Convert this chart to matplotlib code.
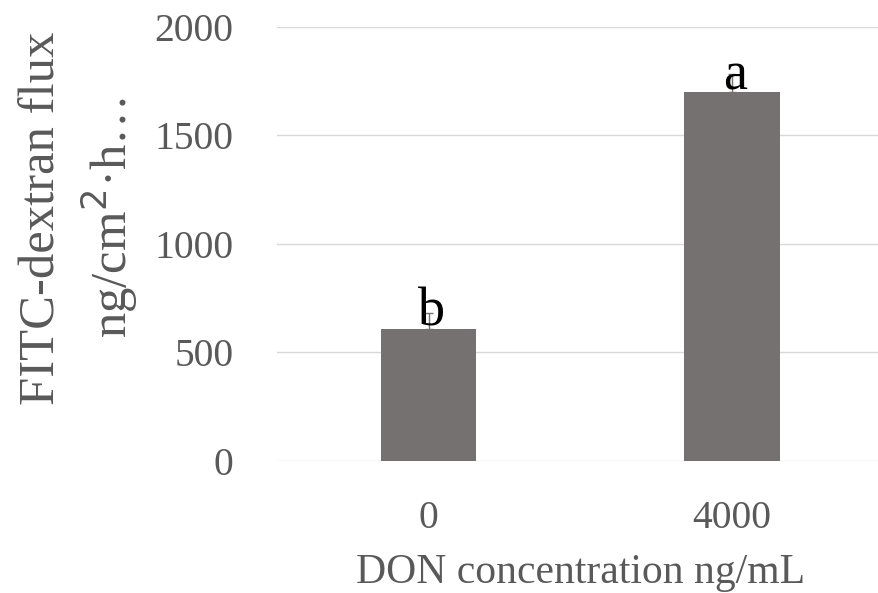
import matplotlib.pyplot as plt

# data
groups = ['0', '4000']
flux = [610, 1700]
err = [70, 85]
letters = ['b', 'a']

plt.rcParams['font.family'] = ['Liberation Serif', 'DejaVu Serif']

fig = plt.figure(figsize=(8.79, 5.93), dpi=100)
ax = fig.add_axes([0.3149, 0.2226, 0.6906, 0.7319])

x = range(len(groups))
ax.bar(x, flux, width=0.315, color='#767171', zorder=2)
ax.errorbar(x, flux, yerr=[[0, 0], err], fmt='none', ecolor='#767171',
            elinewidth=1, capsize=3, capthick=1, zorder=3)

for i, (v, l) in enumerate(zip(flux, letters)):
    ax.annotate(l, (i, v), xytext=(2, 2), textcoords='offset points',
                ha='center', va='baseline', fontsize=39, color='black', zorder=4)

ax.set_xlim(-0.5, 1.5)
ax.set_ylim(0, 2000)
ax.set_yticks([0, 500, 1000, 1500, 2000])
ax.set_xticks(list(x))
ax.set_xticklabels(groups)
ax.yaxis.grid(True, color='#d9d9d9', linewidth=1, zorder=0)
ax.set_axisbelow(True)
for s in ax.spines.values():
    s.set_visible(False)
ax.tick_params(length=0, labelsize=28.5, labelcolor='#595959')
ax.tick_params(axis='y', pad=31)
ax.tick_params(axis='x', pad=28)

ax.set_xlabel('DON concentration ng/mL', fontsize=30, color='#595959', labelpad=12)
ax.set_ylabel('FITC-dextran flux\nng/cm$^2$·h…', fontsize=36.5, color='#595959',
              linespacing=1.25)
ax.yaxis.set_label_coords(-0.226, 0.56)

fig.savefig('out.png', dpi=100)
